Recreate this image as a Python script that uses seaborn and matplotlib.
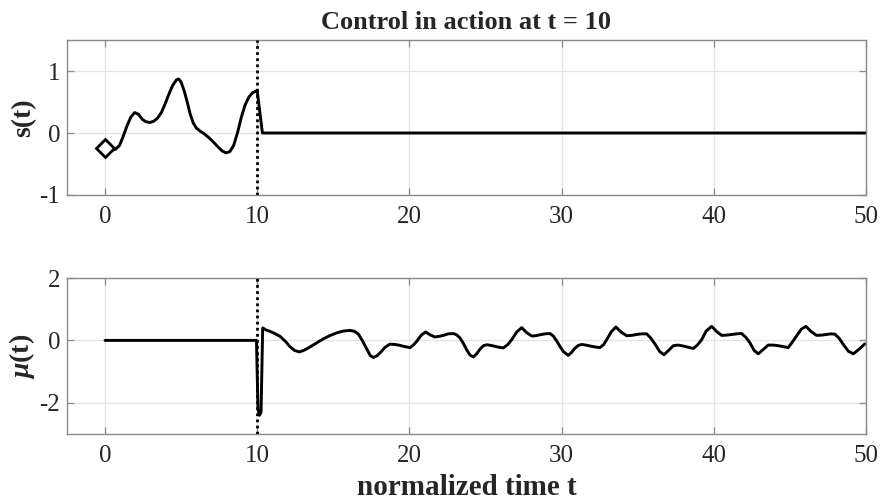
import matplotlib
matplotlib.use("Agg")
import matplotlib.pyplot as plt
import seaborn as sns
import pandas as pd

# state trajectory s(t): free oscillation until control switches on at t = 10
s_t = [0.0, 0.2, 0.45, 0.7, 0.95, 1.2, 1.45, 1.7, 1.95, 2.2, 2.45, 2.7, 2.95,
       3.2, 3.45, 3.7, 3.95, 4.2, 4.45, 4.7, 4.85, 5.0, 5.2, 5.4, 5.6, 5.8,
       6.0, 6.25, 6.5, 6.8, 7.1, 7.4, 7.7, 7.95, 8.2, 8.45, 8.7, 8.95, 9.2,
       9.45, 9.7, 9.95, 10.0, 10.34, 50.0]
s_v = [-0.24, -0.27, -0.28, -0.26, -0.20, -0.05, 0.12, 0.26, 0.33, 0.30, 0.22,
       0.18, 0.17, 0.19, 0.24, 0.33, 0.47, 0.63, 0.77, 0.86, 0.87, 0.82, 0.68,
       0.50, 0.30, 0.16, 0.08, 0.03, -0.01, -0.07, -0.14, -0.22, -0.29, -0.32,
       -0.30, -0.20, 0.0, 0.25, 0.45, 0.58, 0.65, 0.68, 0.68, 0.0, 0.0]

# initial state marker
s0_t = [0.0]
s0_v = [-0.24]

# control input mu(t)
mu_t = [0.0, 9.95, 10.05, 10.15, 10.25, 10.30, 10.36, 10.6, 10.84, 11.15, 11.5,
        11.85, 12.15, 12.45, 12.77, 13.1, 13.47, 13.9, 14.34, 14.8, 15.22,
        15.65, 16.1, 16.4, 16.65, 16.9, 17.19, 17.42, 17.63, 17.85, 18.07,
        18.4, 18.72, 19.05, 19.38, 19.7, 20.04, 20.26, 20.48, 20.78, 21.07,
        21.35, 21.68, 21.95, 22.23, 22.55, 22.89, 23.1, 23.32, 23.55, 23.76,
        23.98, 24.2, 24.42, 24.64, 24.86, 25.08, 25.35, 25.62, 25.9, 26.17,
        26.45, 26.72, 27.05, 27.38, 27.7, 28.04, 28.3, 28.58, 28.9, 29.24,
        29.45, 29.68, 29.9, 30.12, 30.44, 30.66, 30.88, 31.1, 31.32, 31.6,
        31.87, 32.2, 32.52, 32.75, 32.96, 33.27, 33.57, 33.9, 34.28, 34.6,
        34.93, 35.26, 35.59, 35.85, 36.14, 36.45, 36.73, 37.03, 37.34, 37.65,
        38.0, 38.33, 38.65, 38.92, 39.2, 39.5, 39.86, 40.2, 40.52, 40.85,
        41.18, 41.5, 41.83, 42.1, 42.38, 42.65, 42.92, 43.25, 43.58, 43.9,
        44.24, 44.55, 44.89, 45.15, 45.45, 45.75, 46.06, 46.4, 46.76, 47.1,
        47.42, 47.7, 47.96, 48.25, 48.51, 48.85, 49.17, 49.55, 49.93]
mu_v = [0.0, 0.0, -2.2, -2.4, -2.3, -1.0, 0.40, 0.33, 0.29, 0.22, 0.13,
        -0.03, -0.20, -0.32, -0.37, -0.31, -0.21, -0.08, 0.05, 0.16, 0.24,
        0.30, 0.32, 0.29, 0.20, 0.0, -0.27, -0.48, -0.55, -0.50, -0.40,
        -0.22, -0.12, -0.13, -0.16, -0.20, -0.23, -0.15, -0.03, 0.17, 0.27,
        0.18, 0.11, 0.13, 0.16, 0.21, 0.22, 0.18, 0.08, -0.10, -0.30,
        -0.47, -0.53, -0.43, -0.28, -0.17, -0.14, -0.16, -0.19, -0.22, -0.24,
        -0.14, 0.02, 0.27, 0.41, 0.25, 0.14, 0.15, 0.18, 0.21, 0.22,
        0.14, -0.02, -0.20, -0.36, -0.48, -0.38, -0.25, -0.16, -0.13, -0.15,
        -0.18, -0.21, -0.23, -0.14, 0.02, 0.28, 0.43, 0.27, 0.15, 0.16,
        0.19, 0.21, 0.21, 0.08, -0.12, -0.36, -0.46, -0.32, -0.17, -0.15,
        -0.18, -0.22, -0.26, -0.15, 0.02, 0.30, 0.45, 0.28, 0.16, 0.17,
        0.19, 0.21, 0.22, 0.10, -0.08, -0.32, -0.43, -0.29, -0.15, -0.15,
        -0.17, -0.20, -0.23, -0.06, 0.15, 0.36, 0.45, 0.28, 0.16, 0.17,
        0.19, 0.21, 0.20, 0.06, -0.13, -0.35, -0.43, -0.28, -0.11]

t_switch = 10
x_ticks = [0, 10, 20, 30, 40, 50]
s_ticks = [-1, 0, 1]
mu_ticks = [-2, 0, 2]

sns.set_theme(style="whitegrid")
plt.rcParams["font.family"] = ["Liberation Serif", "DejaVu Serif"]
plt.rcParams["mathtext.fontset"] = "custom"
plt.rcParams["mathtext.it"] = "Liberation Serif:italic:bold"
plt.rcParams["mathtext.rm"] = "Liberation Serif:bold"

fig = plt.figure(figsize=(8.85, 5.04), dpi=100)
ax1 = fig.add_axes([0.0757, 0.6131, 0.9028, 0.3075])
ax2 = fig.add_axes([0.0757, 0.1389, 0.9028, 0.3095])

df_s = pd.DataFrame({"t": s_t, "s": s_v})
df_mu = pd.DataFrame({"t": mu_t, "mu": mu_v})

sns.lineplot(data=df_s, x="t", y="s", ax=ax1, color="black", lw=2.1,
             sort=False, estimator=None)
ax1.plot(s0_t, s0_v, marker="D", ms=9, mfc="white", mec="black", mew=2.0,
         ls="none", zorder=5)
sns.lineplot(data=df_mu, x="t", y="mu", ax=ax2, color="black", lw=2.1,
             sort=False, estimator=None)

for ax in (ax1, ax2):
    ax.axvline(t_switch, color="black", ls=(0, (1, 1.2)), lw=2.0, zorder=4)
    ax.set_xlim(-2.5, 50)
    ax.set_xticks(x_ticks)
    ax.grid(True, color="#e3e3e3", lw=0.9)
    for sp in ax.spines.values():
        sp.set_color("#8a8a8a")
        sp.set_linewidth(1.0)
        sp.set_visible(True)
    ax.tick_params(axis="both", direction="in", length=5, width=0.9,
                   color="#8a8a8a", labelsize=18, labelcolor="#262626",
                   top=True, right=True, bottom=True, left=True)
    ax.tick_params(axis="x", pad=8)
    ax.tick_params(axis="y", pad=5)
    ax.set_facecolor("white")

ax1.set_ylim(-1, 1.5)
ax1.set_yticks(s_ticks)
ax1.set_yticklabels([str(v) for v in s_ticks])
ax2.set_ylim(-3, 2)
ax2.set_yticks(mu_ticks)
ax2.set_yticklabels([str(v) for v in mu_ticks])

ax1.set_xlabel("")
ax1.set_ylabel("s(t)", fontsize=20, fontweight="bold", color="#262626", labelpad=2)
ax2.set_ylabel(r"$\mu$(t)", fontsize=20, fontweight="bold", color="#262626", labelpad=2)
ax2.set_xlabel("normalized time t", fontsize=21, fontweight="bold", color="#262626",
               labelpad=5)
ax1.set_title("Control in action at t = 10", fontsize=19, fontweight="bold",
              color="#262626", pad=8)

fig.savefig("out.png", dpi=100, facecolor="white")
